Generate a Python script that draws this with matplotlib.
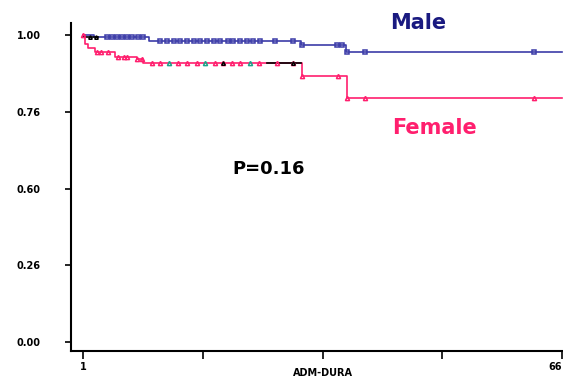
import matplotlib.pyplot as plt

# survival steps (time, survival)
male_t = [1, 2.5, 10, 30.6, 36.6, 66]
male_s = [1.0, 0.993, 0.982, 0.968, 0.945, 0.945]
female_t = [1, 1.3, 1.7, 2.6, 5.3, 8.3, 9.1, 30.7, 36.8, 66]
female_s = [1.0, 0.972, 0.959, 0.946, 0.93, 0.923, 0.911, 0.867, 0.797, 0.797]

# censored cases
male_cens = [4.2, 4.9, 5.6, 6.3, 6.9, 7.6, 8.4, 9.2, 11.4, 12.4, 13.3, 14.2, 15.1,
             16.0, 16.9, 17.8, 18.7, 19.6, 20.6, 21.4, 22.3, 23.2, 24.1, 25.0,
             27.1, 29.5, 30.7, 35.4, 36.1, 36.8, 39.3, 62.1]
female_cens = [1, 2.9, 3.5, 4.4, 5.8, 6.5, 6.9, 8.3, 9.0, 10.3, 11.4, 13.9, 15.1,
               16.4, 18.9, 20.0, 21.2, 22.3, 24.8, 27.3, 29.5, 30.7, 35.6, 36.8,
               39.3, 62.1]
teal_cens = [12.6, 17.6, 23.7]
black_cens = [2.0, 2.8, 20.0, 29.5]

xticks = [1, 17.25, 33.5, 49.75, 66]
xlabels = ["1", "", "", "", "66"]
yticks = [0, 0.25, 0.5, 0.75, 1.0]
ylabels = ["0.00", "0.26", "0.60", "0.76", "1.00"]


def surv_at(t, ts, ss):
    v = ss[0]
    for a, b in zip(ts, ss):
        if a <= t:
            v = b
    return v


male_c = "#3c3ca8"
female_c = "#ff1f6e"

fig = plt.figure(figsize=(5.63, 3.78), dpi=100)
ax = fig.add_axes([0.1261, 0.0714, 0.874, 0.8677])

ax.step(male_t, male_s, where="post", color=male_c, lw=1.2)
ax.step(female_t, female_s, where="post", color=female_c, lw=1.2)
# short black pieces of the third curve
ax.step([1, 3], [0.995, 0.995], where="post", color="black", lw=1.2)
ax.step([26, 30.6], [0.911, 0.911], where="post", color="black", lw=1.2)

ax.plot(male_cens, [surv_at(t, male_t, male_s) for t in male_cens], "s",
        ms=3, mfc="none", mec=male_c, mew=1.1)
ax.plot(female_cens, [surv_at(t, female_t, female_s) for t in female_cens], "^",
        ms=3, mfc="none", mec=female_c, mew=1.1)
ax.plot(teal_cens, [surv_at(t, female_t, female_s) for t in teal_cens], "^",
        ms=3, mfc="none", mec="#1aa58a", mew=1.1)
ax.plot(black_cens, [0.995 if t < 5 else 0.911 for t in black_cens], "^",
        ms=2.5, mfc="none", mec="black", mew=1.1)

ax.set_xlim(-0.63, 66.1)
ax.set_ylim(-0.029, 1.04)
ax.set_xticks(xticks)
ax.set_xticklabels(xlabels, fontsize=7, fontweight="bold")
ax.get_xticklabels()[-1].set_ha("right")
ax.set_yticks(yticks)
ax.set_yticklabels(ylabels, fontsize=7, fontweight="bold")
ax.tick_params(axis="y", length=4, width=1.2, pad=18)
ax.tick_params(axis="x", length=6, width=1.2, pad=2)
ax.spines["top"].set_visible(False)
ax.spines["right"].set_visible(False)
ax.spines["left"].set_linewidth(1.5)
ax.spines["bottom"].set_linewidth(1.5)

fig.text(0.573, 0.013, "ADM-DURA", ha="center", va="center", fontsize=7,
         fontweight="bold")

ax.text(46.4, 1.04, "Male", color="#1a1a80", fontsize=15, fontweight="bold",
        ha="center", va="center")
ax.text(48.6, 0.697, "Female", color=female_c, fontsize=15, fontweight="bold",
        ha="center", va="center")
ax.text(26.2, 0.563, "P=0.16", color="black", fontsize=13, fontweight="bold",
        ha="center", va="center")

fig.savefig("out.png", dpi=100)
